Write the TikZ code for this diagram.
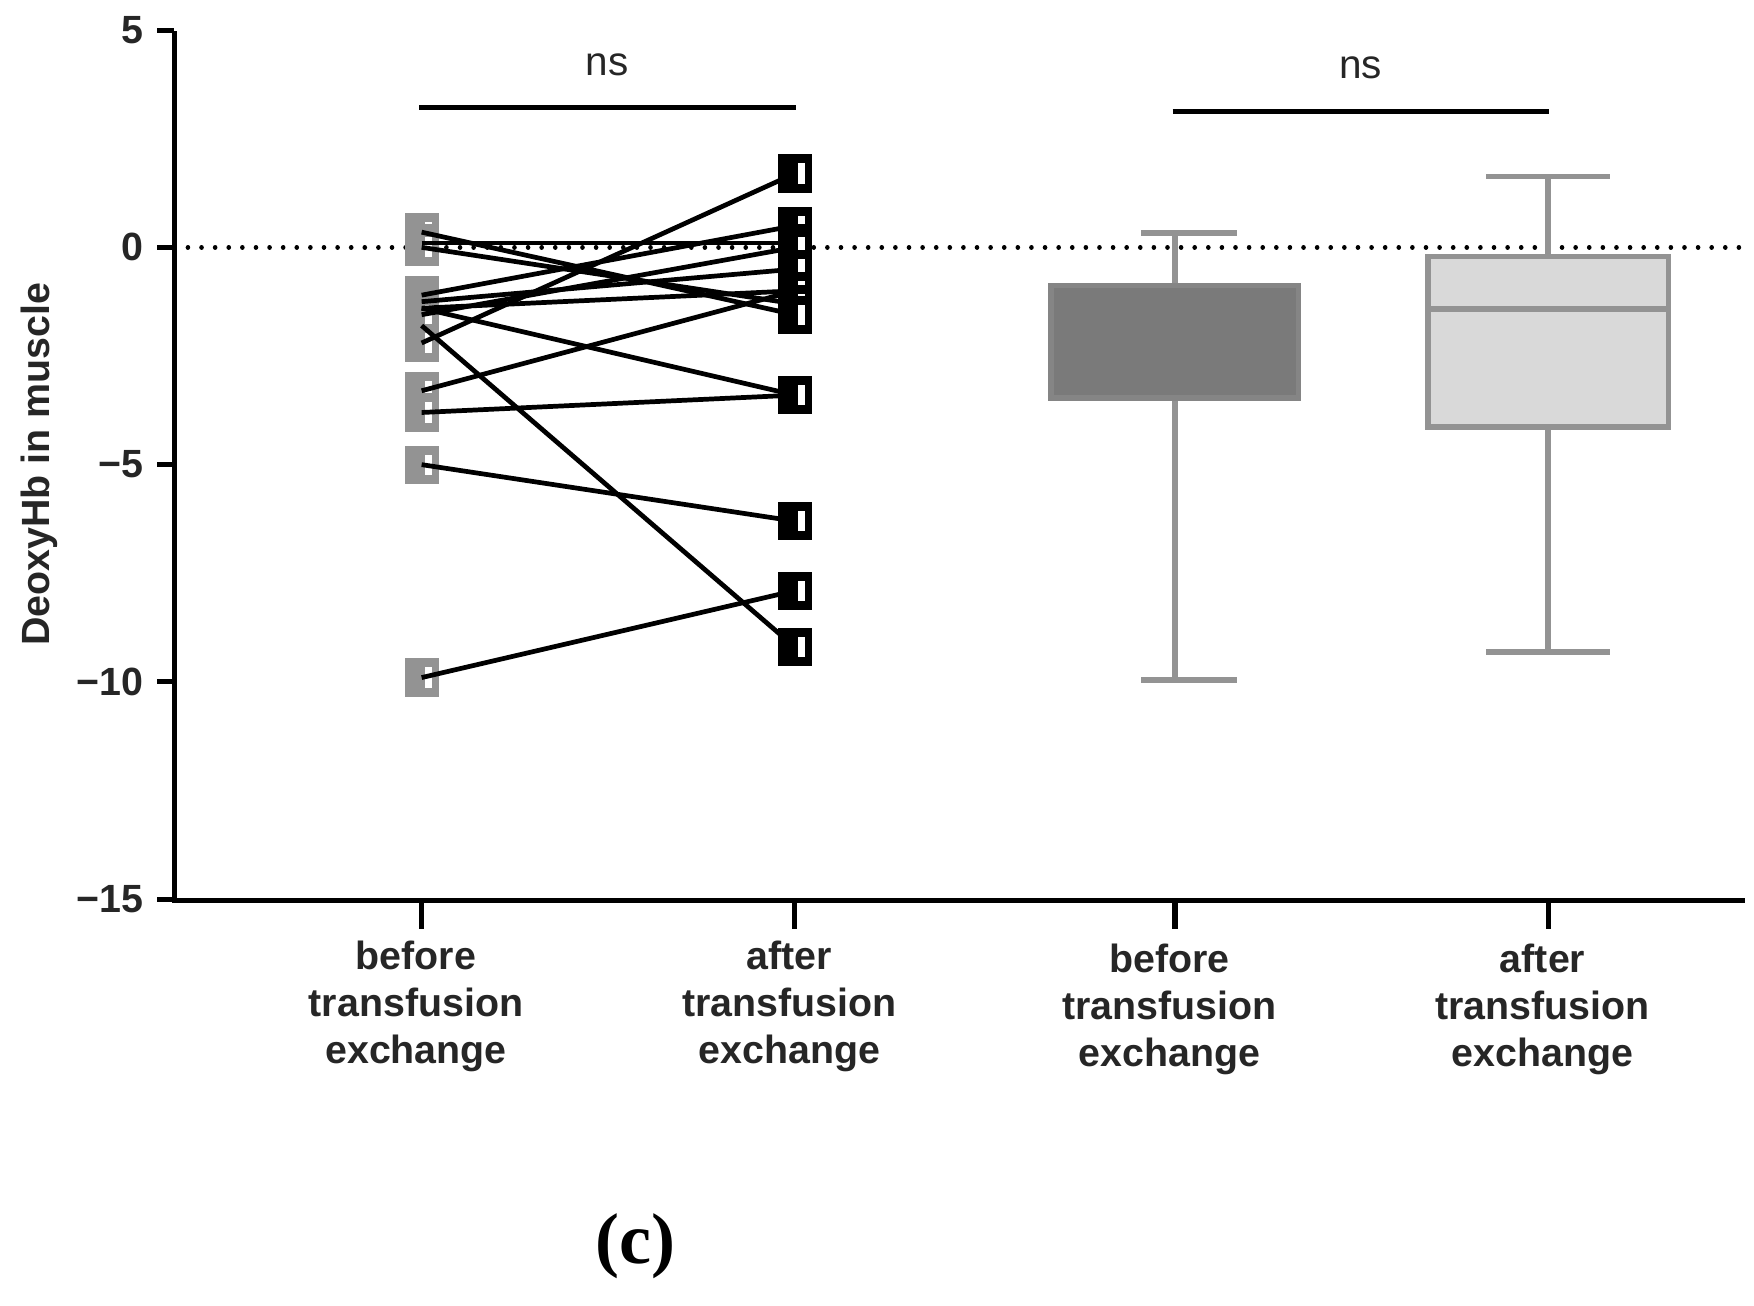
\documentclass[tikz,border=0pt]{standalone}
\usepackage{fontspec}
\setmainfont{Liberation Sans}
\newfontfamily\serif{Liberation Serif}
\begin{document}
\begin{tikzpicture}[x=1pt,y=-1pt,
  lab/.style={font=\fontsize{35}{42}\selectfont\bfseries,align=center,text=black!85},
  gsq/.style={draw=gray!85,line width=2pt,fill=gray!85,minimum width=28pt,minimum height=32pt,inner sep=0pt,
    path picture={\fill[white] ([xshift=-11pt,yshift=-7pt]path picture bounding box.north east) rectangle ([xshift=-5pt,yshift=7pt]path picture bounding box.south east);}},
  bsq/.style={gsq,draw=black,fill=black},
  ax/.style={line width=4.5pt},
  bx/.style={draw=gray!85,line width=5pt}]
\useasboundingbox (0,0) rectangle (1560,1161);
% axes
\draw[ax] (155,28) -- (155,801) -- (1552,801);
\foreach \v/\t in {5/5,0/0,-5/{\textminus 5},-10/{\textminus 10},-15/{\textminus 15}}{
  \draw[ax] (140,{220-38.65*\v}) -- (155,{220-38.65*\v});
  \node[lab,anchor=east,inner sep=0pt] at (128,{220-38.65*\v}) {\t};}
\foreach \x in {375,707,1045,1377} \draw[ax] (\x,801) -- (\x,826);
\draw[line width=4pt,line cap=round,dash pattern=on 0.1pt off 12pt] (155,220) -- (1552,220);
\node[lab,rotate=90] at (35,413) {DeoxyHb in muscle};
\foreach \x/\y/\w in {370/895/before,702/895/after,1040/898/before,1372/898/after}
  \node[lab] at (\x,\y) {\w\\transfusion\\exchange};
% boxes
\draw[bx] (1045,207) -- (1045,607); \draw[bx] (1015,207) -- (1100,207); \draw[bx] (1015,605) -- (1100,605);
\draw[bx,fill=black!52,draw=black!48] (935,254) rectangle (1155,354);
\draw[bx] (1377,157) -- (1377,580); \draw[bx] (1322,157) -- (1432,157); \draw[bx] (1322,580) -- (1432,580);
\draw[bx,fill=gray!30] (1270,228) rectangle (1484,380);
\draw[bx] (1270,275) -- (1484,275);
% ns
\draw[ax] (373,96) -- (708,96); \node[lab,font=\fontsize{36}{40}\selectfont] at (540,58) {ns};
\draw[ax] (1043,99) -- (1378,99); \node[lab,font=\fontsize{36}{40}\selectfont] at (1210,60) {ns};
\node[font=\serif\bfseries\fontsize{64}{70}\selectfont] at (565,1108) {(c)};
% data
\foreach \n/\v in {a/0.35,b/0.1,c/0,d/-1.1,e/-1.25,f/-1.4,g/-1.55,h/-1.8,i/-2.2,j/-3.3,k/-3.8,l/-5,m/-9.9}
  \node[gsq] (L\n) at (375,{220-38.65*\v}) {};
\foreach \n/\v in {a/1.7,b/0.5,c/0.1,d/0,e/-0.5,f/-1.0,g/-1.3,h/-1.55,i/-3.4,j/-6.3,k/-7.9,l/-9.2}
  \node[bsq] (R\n) at (707,{220-38.65*\v}) {};
\foreach \a/\b in {a/h,b/c,c/g,d/b,e/e,f/f,g/d,f/i,h/l,i/a,j/f,k/i,l/j,m/k}
  \draw[line width=4.2pt] (L\a.center) -- (R\b.center);
\end{tikzpicture}
\end{document}
